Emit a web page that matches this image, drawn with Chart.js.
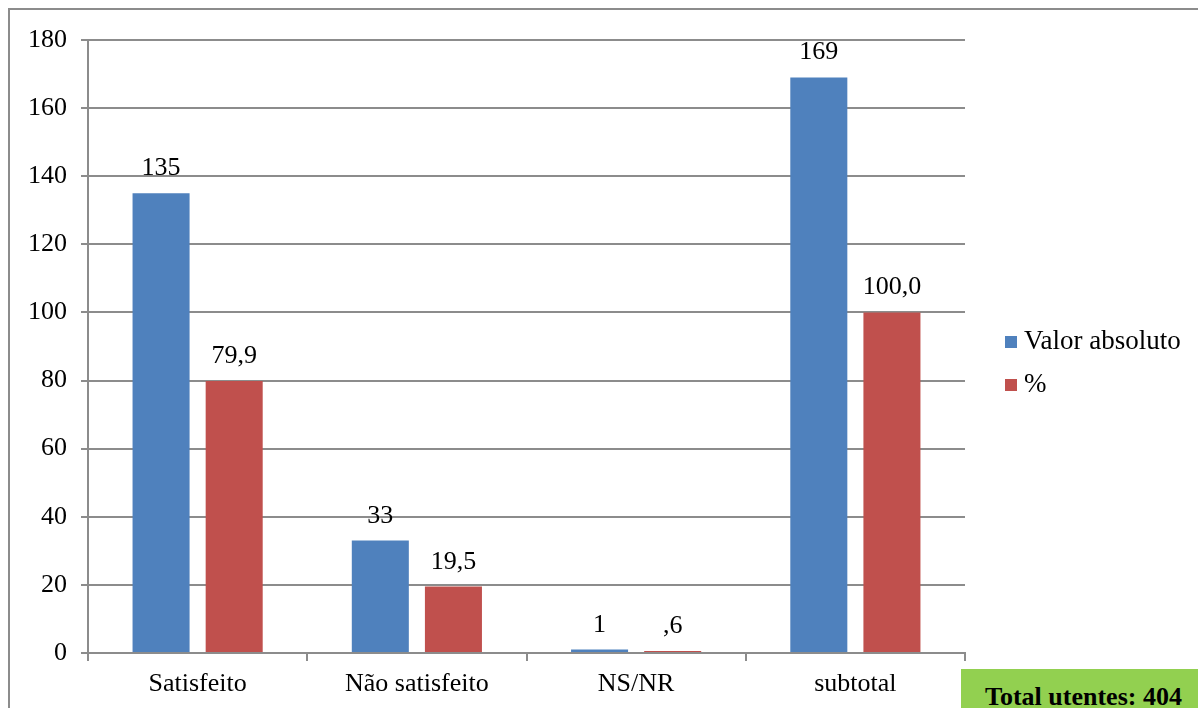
<!DOCTYPE html>
<html>
<head>
<meta charset="utf-8">
<script src="https://cdn.jsdelivr.net/npm/chart.js@4/dist/chart.umd.min.js"></script>
<style>
  body { margin: 0; background: #fff; }
  #wrap { position: relative; width: 1198px; height: 708px; overflow: hidden; }
  #frame {
    position: absolute; left: 8px; top: 8px; width: 1300px; height: 800px;
    border-left: 2px solid #8c8c8c; border-top: 2px solid #8c8c8c;
  }
  #chart { position: absolute; left: 0; top: 0; }
  #total {
    position: absolute; left: 961px; top: 669px; width: 237px; height: 39px;
    background: #92D050; overflow: hidden;
  }
  #total span {
    position: absolute; left: 24px; top: 13px; line-height: 26px; white-space: nowrap;
    font: bold 26px "Liberation Serif", "Times New Roman", serif; color: #000;
  }
</style>
</head>
<body>
<div id="wrap">
  <div id="frame"></div>
  <canvas id="chart" width="1198" height="708"></canvas>
  <div id="total"><span>Total utentes: 404</span></div>
</div>
<script>
// data
const categories = ["Satisfeito", "Não satisfeito", "NS/NR", "subtotal"];
const seriesNames = ["Valor absoluto", "%"];
const absValues = [135, 33, 1, 169];
const pctValues = [79.9, 19.5, 0.6, 100.0];
const absLabels = ["135", "33", "1", "169"];
const pctLabels = ["79,9", "19,5", ",6", "100,0"];
const yTicks = [0, 20, 40, 60, 80, 100, 120, 140, 160, 180];

const colors = ["#4F81BD", "#C0504D"];
const FONT = '"Liberation Serif", "Times New Roman", serif';
const gridColor = "#8c8c8c";

// value labels above each bar
const valueLabels = {
  id: "valueLabels",
  afterDatasetsDraw(chart) {
    const ctx = chart.ctx;
    const texts = [absLabels, pctLabels];
    ctx.save();
    ctx.font = "26px " + FONT;
    ctx.fillStyle = "#000";
    ctx.textAlign = "center";
    ctx.textBaseline = "alphabetic";
    chart.data.datasets.forEach((ds, i) => {
      chart.getDatasetMeta(i).data.forEach((bar, j) => {
        ctx.fillText(texts[i][j], bar.x, bar.y - 18);
      });
    });
    ctx.restore();
  }
};

// legend on the right
const sideLegend = {
  id: "sideLegend",
  afterDraw(chart) {
    const ctx = chart.ctx;
    const rows = [342, 385];
    ctx.save();
    ctx.font = "27px " + FONT;
    ctx.textBaseline = "middle";
    ctx.textAlign = "left";
    seriesNames.forEach((name, i) => {
      ctx.fillStyle = colors[i];
      ctx.fillRect(1005, rows[i] - 6, 12, 12);
      ctx.fillStyle = "#000";
      ctx.fillText(name, 1024, rows[i]);
    });
    ctx.restore();
  }
};

new Chart(document.getElementById("chart"), {
  type: "bar",
  data: {
    labels: categories,
    datasets: [
      { label: seriesNames[0], data: absValues, backgroundColor: colors[0] },
      { label: seriesNames[1], data: pctValues, backgroundColor: colors[1] }
    ]
  },
  options: {
    responsive: false,
    animation: false,
    categoryPercentage: 0.667,
    barPercentage: 0.78,
    layout: { padding: { left: 0, top: 40, right: 233, bottom: 0 } },
    plugins: {
      legend: { display: false },
      tooltip: { enabled: false }
    },
    scales: {
      x: {
        afterFit: (s) => { s.height = 55; },
        grid: {
          display: true,
          drawOnChartArea: false,
          drawTicks: true,
          tickLength: 8,
          color: gridColor,
          lineWidth: 2
        },
        border: { color: gridColor, width: 2 },
        ticks: {
          font: { family: FONT, size: 26 },
          color: "#000",
          padding: 8
        }
      },
      y: {
        min: 0,
        max: 180,
        afterFit: (s) => { s.width = 88; },
        afterBuildTicks: (s) => { s.ticks = yTicks.map(v => ({ value: v })); },
        grid: {
          color: gridColor,
          lineWidth: 2,
          tickLength: 7
        },
        border: { color: gridColor, width: 2 },
        ticks: {
          font: { family: FONT, size: 26 },
          color: "#000",
          padding: 14
        }
      }
    }
  },
  plugins: [valueLabels, sideLegend]
});
</script>
</body>
</html>
